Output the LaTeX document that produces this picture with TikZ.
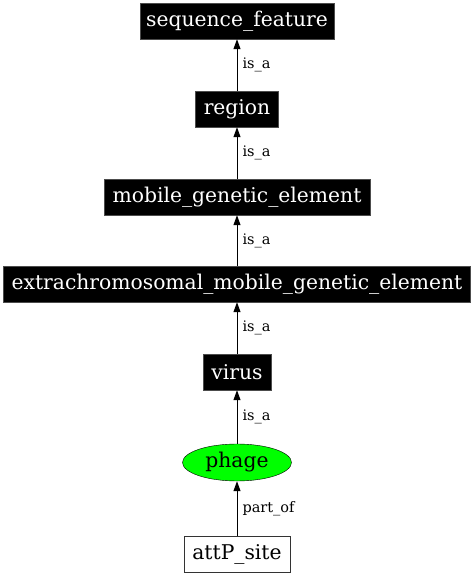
\documentclass[tikz,border=0pt]{standalone}
\usepackage{fontspec}
\setmainfont{DejaVu Serif}
\usetikzlibrary{arrows.meta,shapes.geometric}
\begin{document}
\begin{tikzpicture}[x=1pt,y=1pt,
  blackbox/.style={draw=black!70,fill=black,text=white,minimum height=36pt,inner sep=0pt,font=\fontsize{20.3}{23}\selectfont},
  whitebox/.style={draw=black!80,fill=white,text=black,minimum height=36pt,inner sep=0pt,font=\fontsize{20.3}{23}\selectfont},
  greenell/.style={ellipse,draw=black,fill=green,inner sep=0pt,minimum width=109pt,minimum height=37pt,font=\fontsize{20.3}{23}\selectfont},
  rel/.style={draw=black,line width=1pt,-{Triangle[length=10pt,width=7pt]}},
  lbl/.style={anchor=west,inner sep=0pt,font=\fontsize{14.5}{16}\selectfont}]
\useasboundingbox[fill=white] (0,0) rectangle (474,576);
\node[blackbox,minimum width=194pt] (sf) at (237,555) {sequence\_feature};
\node[blackbox,minimum width=83pt] (region) at (237,467) {region};
\node[blackbox,minimum width=266pt] (mge) at (237,379) {mobile\_genetic\_element};
\node[blackbox,minimum width=467pt] (ext) at (237,292) {extrachromosomal\_mobile\_genetic\_element};
\node[blackbox,minimum width=68pt] (virus) at (237,204) {virus};
\node[greenell] (phage) at (237,113.5) {phage};
\node[whitebox,minimum width=106pt] (attp) at (237,22) {attP\_site};
\draw[rel] (region.north) -- (sf.south) node[lbl,pos=0.5,xshift=5pt] (l1) {is\_a};
\draw[rel] (mge.north) -- (region.south) node[lbl,pos=0.5,xshift=5pt] (l2) {is\_a};
\draw[rel] (ext.north) -- (mge.south) node[lbl,pos=0.5,xshift=5pt] (l3) {is\_a};
\draw[rel] (virus.north) -- (ext.south) node[lbl,pos=0.5,xshift=5pt] (l4) {is\_a};
\draw[rel] (phage.north) -- (virus.south) node[lbl,pos=0.5,xshift=5pt] (l5) {is\_a};
\draw[rel] (attp.north) -- (phage.south) node[lbl,pos=0.5,xshift=5pt] (l6) {part\_of};
\end{tikzpicture}
\end{document}
